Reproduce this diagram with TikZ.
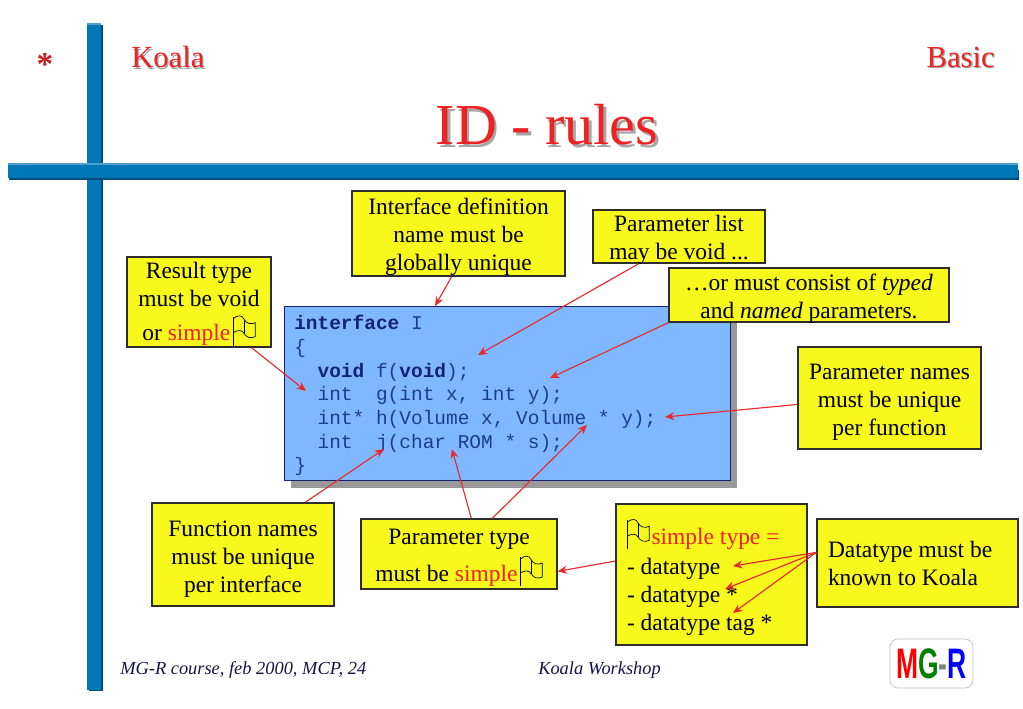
\documentclass[tikz,border=0pt]{standalone}
\usepackage{fontspec}
\setmainfont{Liberation Serif}
\setmonofont{Liberation Mono}
\newfontfamily\logofont{Liberation Sans}
\usepackage{xcolor}
\definecolor{barblue}{RGB}{0, 119, 182}
\definecolor{bardark}{RGB}{0, 78, 125}
\definecolor{barlight}{RGB}{80, 160, 205}
\definecolor{notefill}{RGB}{248, 248, 28}
\definecolor{noteline}{RGB}{45, 45, 45}
\definecolor{codefill}{RGB}{127, 184, 255}
\definecolor{codenavy}{RGB}{20, 35, 110}
\definecolor{codethin}{RGB}{30, 60, 140}
\definecolor{slidered}{RGB}{238, 34, 34}
\definecolor{arrowred}{RGB}{232, 40, 45}
\definecolor{footnavy}{RGB}{20, 20, 70}
\usetikzlibrary{
    arrows.meta,
    positioning
}
\newcommand{\shadowed}[2]{\leavevmode\rlap{\kern#1\raisebox{-#1}{\color{gray!70}#2}}#2}
\newcommand{\redword}[1]{\textcolor{slidered}{#1}}
\newcommand{\toproom}[1][18pt]{\rule{0pt}{#1}}
\newcommand{\flagmark}{\tikz[baseline=3pt,x=.82pt,y=.75pt,line width=.5pt,draw=black]{
    \draw (0,-1) -- (0,28);
    \draw (0,26) .. controls (4,30) and (8,30) .. (10,25) .. controls (12,21) and (16,20) .. (20,22)
        -- (20,8) .. controls (16,6) and (12,7) .. (10,11) .. controls (8,15) and (4,15) .. (0,12);
    \draw (10,25) -- (10,11);
}}
\tikzset{
    notebox/.style={draw=noteline,line width=1pt,fill=notefill,align=center,inner sep=0pt,
        font=\fontsize{17.6}{21}\selectfont},
    leftnote/.style={align=flush left,inner xsep=8.25pt,text width=#1*0.75pt-16.5pt},
    boxsize/.style 2 args={minimum width=#1*0.75pt,minimum height=#2*0.75pt},
    note/.style={-{Stealth[length=7pt,width=6pt]},arrowred,line width=.85pt},
    footer/.style={font=\fontsize{13.8}{16}\selectfont\itshape,text=footnavy,inner sep=0pt}
}

\begin{document}
\begin{tikzpicture}[x=.75pt,y=-.75pt]
    \useasboundingbox (0,0) rectangle (1023,708);
    % cross bars
    \fill[bardark] (89,25) rectangle (103,691);
    \fill[barblue] (87,23) rectangle (101,690);
    \fill[barlight] (87,23) rectangle (101,25);
    \fill[bardark] (9,170) rectangle (1019,180);
    \fill[barblue] (8,163) rectangle (1018,178);
    \fill[barlight] (8,163) rectangle (1018,165);
    % headings
    \node[text=slidered!85!black,inner sep=0pt,font=\fontsize{25}{25}\selectfont\bfseries] (star) at (45,64) {*};
    \node[text=slidered,inner sep=0pt,font=\fontsize{23}{26}\selectfont,anchor=west] (koala) at (131,58) {\shadowed{1pt}{Koala}};
    \node[text=slidered,inner sep=0pt,font=\fontsize{23}{26}\selectfont,anchor=east] (basic) at (995,58) {\shadowed{1pt}{Basic}};
    \node[text=slidered,inner sep=0pt,font=\fontsize{43.5}{48}\selectfont] (title) at (547,126) {\shadowed{2pt}{ID - rules}};
    % code
    \fill[gray!80] (291,313) rectangle (737,488);
    \node[draw=codenavy,line width=1pt,fill=codefill,boxsize={446}{174},anchor=north west] (code) at (284,306) {};
    \node[anchor=north west,inner sep=0pt,align=left,text=codethin,
        font=\fontsize{14.6}{17.75}\selectfont\ttfamily] (listing) at (294,315) {%
        \textcolor{codenavy}{\textbf{interface}} I\\
        \{\\
        ~~\textcolor{codenavy}{\textbf{void}} f(\textcolor{codenavy}{\textbf{void}});\\
        ~~int~~g(int x, int y);\\
        ~~int* h(Volume x, Volume * y);\\
        ~~int~~j(char ROM * s);\\
        \}};
    % notes
    \node[notebox,boxsize={144}{90}] (resulttype) at (199,302) {\toproom[15pt]Result type\\must be void\\[5pt]or \redword{simple}\hspace{2pt}\flagmark};
    \node[notebox,boxsize={213}{85}] (ifacename) at (458.5,233.5) {\toproom Interface definition\\name must be\\globally unique};
    \node[notebox,boxsize={172}{53},inner ysep=-3pt] (paramlist) at (679,236.5) {\toproom Parameter list\\may be void ...};
    \node[notebox,boxsize={280}{54},inner ysep=-3pt] (typednamed) at (809,295) {\toproom …or must consist of \textit{typed}\\and \textit{named} parameters.};
    \node[notebox,boxsize={183}{102}] (paramnames) at (889.5,398) {\toproom Parameter names\\must be unique\\per function};
    \node[notebox,boxsize={182}{103}] (funcnames) at (243,554.5) {\toproom Function names\\must be unique\\per interface};
    \node[notebox,boxsize={196}{70}] (paramtype) at (459,554) {\toproom[17pt]Parameter type\\[3pt]must be \redword{simple}\hspace{2pt}\flagmark};
    \node[notebox,boxsize={191}{141},leftnote=191] (simpletype) at (711.5,574.5) {\toproom[23pt]\flagmark\hspace{1.5pt}\redword{simple type =}\\[1.5pt]- datatype\\- datatype *\\- datatype tag *};
    \node[notebox,boxsize={201}{88},leftnote=201] (datatype) at (917.5,563) {Datatype must be\\known to Koala};
    % arrow ends
    \coordinate (tipiface) at (435,306);
    \coordinate (tipvoid) at (478,355);
    \coordinate (tiptyped) at (550,378);
    \coordinate (tipnames) at (665,417);
    \coordinate (tipresult) at (306,391);
    \coordinate (tipfunc) at (384,449);
    \coordinate (tiprom) at (452,449);
    \coordinate (tipvolume) at (587,425);
    \coordinate (tipdataA) at (733,566);
    \coordinate (tipdataB) at (725,589);
    \coordinate (tipdataC) at (733,613);
    \draw[note] (ifacename.261) -- (tipiface);
    \draw[note] (paramlist.214) -- (tipvoid);
    \draw[note] (typednamed.south west) -- (tiptyped);
    \draw[note] (paramnames.184) -- (tipnames);
    \draw[note] (resulttype.-41) -- (tipresult);
    \draw[note] (funcnames.40) -- (tipfunc);
    \draw[note] (paramtype.71) -- (tiprom);
    \draw[note] (paramtype.47) -- (tipvolume);
    \draw[note] (simpletype.172) -- (paramtype.-10);
    \draw[note] (datatype.174) -- (tipdataA);
    \draw[note] (datatype.174) -- (tipdataB);
    \draw[note] (datatype.174) -- (tipdataC);
    % footer
    \node[footer,anchor=west] (course) at (120,670) {MG-R course, feb 2000, MCP, 24};
    \node[footer,anchor=west] (workshop) at (538,670) {Koala Workshop};
    \node[draw=gray!50,fill=white,rounded corners=6pt,boxsize={83}{49},inner sep=0pt,line width=.5pt,
        font=\logofont\bfseries\fontsize{32}{32}\selectfont] (logo) at (931.5,663.5)
        {\scalebox{.62}[1]{\textcolor{red}{M}\textcolor{green!50!black}{G}\textcolor{gray}{-}\textcolor{blue}{R}}};
\end{tikzpicture}
\end{document}
